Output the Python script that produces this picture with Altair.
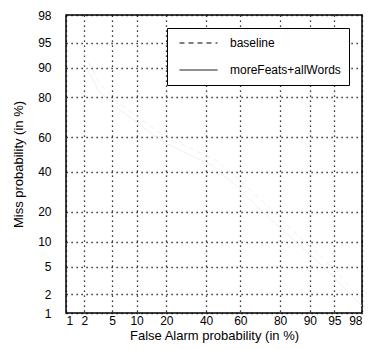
import altair as alt
import pandas as pd
from statistics import NormalDist

nd = NormalDist()


def probit(p):
    return nd.inv_cdf(p / 100.0)


# Tick labels (percent) used on both axes of the DET plot
ticks = [1, 2, 5, 10, 20, 40, 60, 80, 90, 95, 98]
series = ["baseline", "moreFeats+allWords"]

# Curves (very faint in the reference scan), values in percent
base_fa = [2, 3.4, 6, 9.6, 20, 31, 46, 60, 75, 85, 92, 96.4, 98]
base_miss = [93, 85, 78, 72, 60, 54, 46.6, 35, 22, 13, 7.3, 3.2, 1.5]
more_fa = [2, 3.2, 5.5, 9, 18, 29, 43, 57, 72, 83, 91, 96, 98]
more_miss = [91, 83, 76, 70, 58, 51, 44, 33, 20, 12, 6.5, 2.8, 1.3]

rows = []
for name, fa, miss in [(series[0], base_fa, base_miss), (series[1], more_fa, more_miss)]:
    for i, (f, m) in enumerate(zip(fa, miss)):
        rows.append({"series": name, "fa": f, "miss": m,
                     "fa_p": probit(f), "miss_p": probit(m), "order": i})
df = pd.DataFrame(rows)

tick_p = [probit(t) for t in ticks]
label_expr = "format(round(cumulativeNormal(datum.value) * 100), 'd')"

chart = alt.Chart(df).mark_line(color="#f0f0f0", strokeWidth=1, clip=True).encode(
    x=alt.X("fa_p:Q",
            scale=alt.Scale(domain=[probit(1), probit(98)], nice=False, zero=False),
            axis=alt.Axis(values=tick_p, labelExpr=label_expr,
                          title="False Alarm probability (in %)",
                          grid=True, gridDash=[1.2, 3.8], gridColor="#000000", gridOpacity=1,
                          gridWidth=1.3,
                          tickSize=0, labelPadding=2, titlePadding=3, domain=False)),
    y=alt.Y("miss_p:Q",
            scale=alt.Scale(domain=[probit(1), probit(98)], nice=False, zero=False),
            axis=alt.Axis(values=tick_p, labelExpr=label_expr,
                          title="Miss probability (in %)",
                          grid=True, gridDash=[1.2, 3.8], gridColor="#000000", gridOpacity=1,
                          gridWidth=1.3,
                          tickSize=0, labelPadding=15, titlePadding=12, domain=False)),
    strokeDash=alt.StrokeDash(
        "series:N",
        scale=alt.Scale(domain=series, range=[[5, 4], [1, 0]]),
        legend=alt.Legend(title=None, orient="top-right", offset=13,
                          symbolType="stroke", symbolStrokeColor="black",
                          symbolStrokeWidth=1, symbolSize=1444, clipHeight=14,
                          symbolOffset=4,
                          labelFontSize=12, labelFont="Liberation Sans", labelColor="black",
                          labelOffset=12, rowPadding=13, padding=8,
                          strokeColor="black", fillColor="white"),
    ),
    order="order:Q",
).properties(
    width=296,
    height=298,
    autosize=alt.AutoSizeParams(type="none"),
    padding={"left": 66, "top": 15, "right": 7, "bottom": 36},
).configure_view(
    stroke="black", strokeWidth=1.5
).configure_axis(
    labelFont="Liberation Sans", labelFontSize=12, labelColor="black",
    titleFont="Liberation Sans", titleFontSize=13, titleFontWeight="normal", titleColor="black",
)

chart.save("out.html", embed_options={"renderer": "svg", "actions": False})
